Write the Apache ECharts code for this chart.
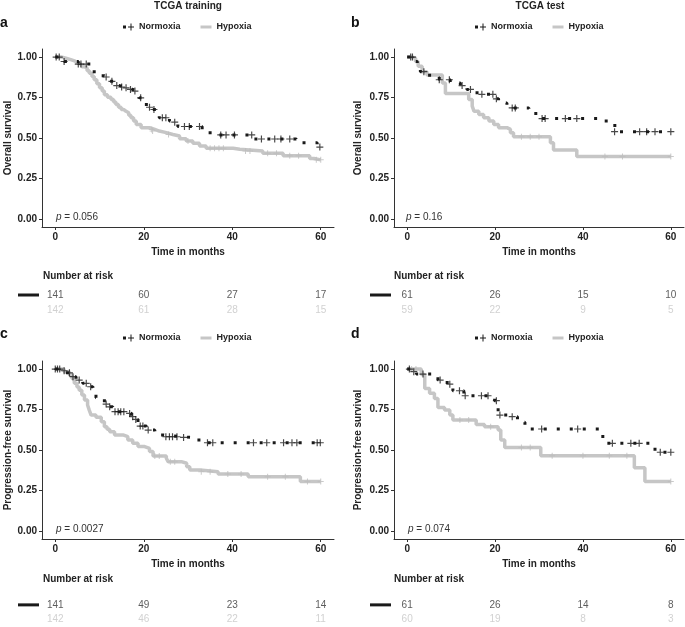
<!DOCTYPE html>
<html><head><meta charset="utf-8">
<script src="https://cdn.jsdelivr.net/npm/echarts@6/dist/echarts.min.js"></script>
<style>html,body{margin:0;padding:0;background:#fff}#c{width:685px;height:627px}</style>
</head><body><div id="c"></div>
<script>
// ---------- data ----------
const xTicks = [0, 20, 40, 60];
const yTicks = [0, 0.25, 0.5, 0.75, 1];
const riskTimes = [0, 20, 40, 60];
const groupNames = ['Normoxia', 'Hypoxia'];
const columnTitles = ['TCGA training', 'TCGA test'];
const panelLetters = ['a', 'b', 'c', 'd'];
const yNames = ['Overall survival', 'Overall survival', 'Progression-free survival', 'Progression-free survival'];
const pValues = ['0.056', '0.16', '0.0027', '0.074'];

// a: TCGA training, overall survival
const aNormoxia = [[0,1],[2.0,0.973],[5.2,0.957],[8.8,0.885],[11.1,0.877],[12.2,0.85],[13.4,0.824],[14.5,0.815],[15.6,0.81],[16.8,0.80],[17.5,0.79],[18.6,0.768],[19.0,0.748],[19.9,0.707],[21.0,0.69],[21.7,0.676],[22.8,0.656],[23.5,0.625],[25.8,0.605],[26.6,0.598],[27.7,0.571],[33.2,0.55],[35.0,0.519],[44.6,0.494],[54.5,0.47],[59.2,0.444],[60,0.444]];
const aNormoxiaCens = [[0.2,1],[0.9,1],[2.0,0.973],[5.2,0.957],[5.8,0.957],[7.0,0.957],[11.5,0.877],[12.8,0.85],[13.9,0.824],[15.0,0.815],[16.0,0.81],[17.0,0.80],[18.0,0.79],[19.3,0.748],[21.3,0.69],[22.3,0.676],[24.2,0.625],[25.0,0.625],[27.0,0.598],[29.2,0.571],[30.3,0.571],[32.6,0.571],[37.4,0.519],[38.6,0.519],[40.5,0.519],[44.4,0.519],[46.6,0.494],[49.6,0.494],[51.0,0.494],[53.0,0.494],[59.8,0.444]];
const aHypoxia = [[0,1],[1.5,0.993],[2.4,0.984],[3.5,0.975],[4.5,0.965],[5.1,0.953],[6.0,0.94],[6.6,0.932],[7.2,0.915],[7.7,0.90],[8.3,0.88],[8.8,0.86],[9.4,0.835],[10.0,0.81],[10.6,0.79],[11.1,0.768],[11.8,0.752],[12.6,0.738],[13.2,0.722],[13.7,0.707],[14.3,0.69],[14.9,0.676],[15.5,0.665],[16.0,0.656],[16.6,0.64],[17.1,0.625],[17.7,0.605],[18.3,0.584],[19.4,0.564],[21.3,0.553],[22.5,0.543],[23.5,0.533],[25.1,0.522],[26.6,0.512],[28.1,0.496],[29.6,0.482],[31.1,0.467],[32.6,0.451],[34.1,0.436],[40.2,0.43],[41.7,0.42],[46.9,0.406],[51.5,0.39],[57.5,0.373],[58.5,0.365],[60,0.365]];
const aHypoxiaCens = [[21.8,0.553],[22.0,0.543],[25.6,0.522],[30.0,0.482],[35.0,0.436],[36.0,0.436],[37.0,0.436],[38.0,0.436],[43.0,0.42],[44.0,0.42],[48.0,0.406],[50.0,0.406],[53.0,0.39],[55.0,0.39],[59.0,0.365],[60,0.365]];

// b: TCGA test, overall survival
const bNormoxia = [[0,1],[1.5,0.973],[2.3,0.953],[3.0,0.91],[5.1,0.877],[7.3,0.86],[9.8,0.84],[12.1,0.824],[13.6,0.80],[15.9,0.77],[19.7,0.758],[20.1,0.742],[20.8,0.717],[22.7,0.686],[27.7,0.652],[29.9,0.62],[44.3,0.605],[46.6,0.578],[47.8,0.539],[60,0.539]];
const bNormoxiaCens = [[0.8,1],[1.2,1],[3.8,0.91],[7.3,0.86],[9.6,0.86],[12.5,0.824],[14.4,0.80],[17.0,0.77],[19.5,0.77],[20.3,0.742],[23.9,0.686],[24.6,0.686],[30.7,0.62],[31.4,0.62],[36.0,0.62],[38.6,0.62],[47.2,0.539],[52.9,0.539],[54.5,0.539],[56.4,0.539],[60,0.539]];
const bHypoxia = [[0,1],[1.1,0.994],[1.9,0.973],[2.5,0.943],[3.4,0.91],[4.5,0.889],[8.0,0.84],[8.7,0.775],[14.0,0.738],[14.8,0.697],[15.2,0.666],[16.3,0.645],[17.4,0.625],[18.6,0.605],[19.7,0.584],[20.8,0.564],[22.7,0.553],[23.5,0.533],[24.2,0.508],[32.6,0.471],[33.3,0.426],[38.6,0.385],[60,0.385]];
const bHypoxiaCens = [[26,0.508],[28,0.508],[30,0.508],[45,0.385],[49,0.385],[60,0.385]];

// c: TCGA training, progression-free survival
const cNormoxia = [[0,1],[1.3,0.99],[2.4,0.977],[3.6,0.953],[4.7,0.932],[6.2,0.912],[7.3,0.891],[8.5,0.87],[9.2,0.823],[11.1,0.784],[11.9,0.767],[13.0,0.737],[16.4,0.726],[17.2,0.706],[17.9,0.689],[18.7,0.648],[20.6,0.623],[22.5,0.593],[24.4,0.582],[28.5,0.578],[30.6,0.562],[34.0,0.545],[60,0.545]];
const cNormoxiaCens = [[0,1],[0.5,1],[1.0,1],[2.0,0.99],[3.2,0.977],[4.0,0.953],[5.4,0.932],[7.0,0.912],[8.0,0.891],[11.5,0.784],[12.3,0.767],[13.5,0.737],[14.2,0.737],[14.8,0.737],[15.5,0.737],[16.8,0.726],[17.5,0.706],[18.2,0.689],[19.2,0.648],[19.8,0.648],[21.0,0.623],[25.0,0.582],[25.8,0.582],[26.5,0.582],[27.5,0.582],[29.0,0.578],[34.4,0.545],[35.6,0.545],[44.8,0.545],[47.8,0.545],[51.6,0.545],[53.5,0.545],[54.6,0.545],[59.2,0.545],[59.9,0.545]];
const cHypoxia = [[0,1],[2.0,0.984],[3.2,0.963],[3.8,0.94],[4.3,0.912],[4.9,0.89],[5.4,0.87],[6.0,0.84],[6.6,0.809],[7.3,0.778],[7.7,0.745],[8.1,0.716],[9.2,0.702],[10.4,0.675],[11.1,0.644],[11.7,0.628],[12.3,0.613],[13.4,0.593],[15.3,0.582],[16.4,0.562],[17.5,0.541],[18.7,0.521],[20.2,0.51],[21.3,0.49],[22.1,0.463],[25.1,0.449],[25.5,0.428],[28.5,0.418],[29.7,0.397],[30.4,0.377],[32.7,0.366],[36.8,0.352],[43.6,0.335],[55.4,0.305],[60,0.305]];
const cHypoxiaCens = [[22.5,0.463],[23.5,0.463],[26,0.428],[27,0.428],[33,0.366],[35,0.366],[39,0.352],[42,0.352],[48,0.335],[52,0.335],[57,0.305],[60,0.305]];

// d: TCGA test, progression-free survival
const dNormoxia = [[0,1],[0.9,0.984],[2.1,0.969],[7.0,0.932],[9.1,0.907],[10.4,0.866],[12.9,0.835],[19.9,0.805],[20.7,0.716],[23.3,0.706],[25.1,0.672],[26.8,0.63],[43.9,0.584],[45.2,0.541],[56.4,0.486],[60,0.486]];
const dNormoxiaCens = [[0.5,1],[1.5,0.984],[3.6,0.969],[7.5,0.932],[9.7,0.907],[11.9,0.866],[13.2,0.835],[16.9,0.835],[18.4,0.835],[20.3,0.805],[21.1,0.716],[23.9,0.706],[30.6,0.63],[38.8,0.63],[46.7,0.541],[50.9,0.541],[52.8,0.541],[57.6,0.486],[60,0.486]];
const dHypoxia = [[0,1],[3.2,0.967],[4.0,0.88],[5.1,0.85],[6.2,0.819],[7.0,0.763],[8.5,0.747],[9.7,0.716],[10.4,0.685],[15.7,0.658],[17.6,0.644],[20.7,0.623],[21.3,0.562],[22.2,0.516],[30.4,0.465],[51.7,0.39],[54.1,0.305],[60,0.305]];
const dHypoxiaCens = [[1,1],[2,1],[12,0.685],[14,0.685],[19,0.644],[26,0.516],[28,0.516],[33,0.465],[40,0.465],[46,0.465],[50,0.465],[60,0.305]];

// numbers at risk (at riskTimes)
const aRiskNormoxia = [141, 60, 27, 17];
const aRiskHypoxia  = [142, 61, 28, 15];
const bRiskNormoxia = [61, 26, 15, 10];
const bRiskHypoxia  = [59, 22, 9, 5];
const cRiskNormoxia = [141, 49, 23, 14];
const cRiskHypoxia  = [142, 46, 22, 11];
const dRiskNormoxia = [61, 26, 14, 8];
const dRiskHypoxia  = [60, 19, 8, 3];

// ---------- layout / style ----------
const BLACK = '#1a1a1a', GREY = '#c6c6c6';
const plotBoxes = [
  {left: 42, top: 49, width: 292, height: 178},
  {left: 394, top: 49, width: 290, height: 178},
  {left: 42, top: 361, width: 292, height: 178},
  {left: 394, top: 361, width: 290, height: 178}
];
const riskBoxes = [
  {top: 287.5, height: 30}, {top: 287.5, height: 30},
  {top: 597.5, height: 34}, {top: 597.5, height: 34}
];
const nameGaps = [29, 31, 29, 31];
const plusPath = 'path://M-0.5,-3H0.5V-0.5H3V0.5H0.5V3H-0.5V0.5H-3V-0.5H-0.5Z';

const panels = [
  {norm: aNormoxia, normC: aNormoxiaCens, hyp: aHypoxia, hypC: aHypoxiaCens, rN: aRiskNormoxia, rH: aRiskHypoxia},
  {norm: bNormoxia, normC: bNormoxiaCens, hyp: bHypoxia, hypC: bHypoxiaCens, rN: bRiskNormoxia, rH: bRiskHypoxia},
  {norm: cNormoxia, normC: cNormoxiaCens, hyp: cHypoxia, hypC: cHypoxiaCens, rN: cRiskNormoxia, rH: cRiskHypoxia},
  {norm: dNormoxia, normC: dNormoxiaCens, hyp: dHypoxia, hypC: dHypoxiaCens, rN: dRiskNormoxia, rH: dRiskHypoxia}
];

const grid = [], xAxis = [], yAxis = [], series = [], legend = [], graphic = [];
const axisLineStyle = {show: true, onZero: false, lineStyle: {color: '#333', width: 1}};
const tickStyle = {show: true, length: 3, lineStyle: {color: '#333', width: 1}};
const boldLabel = {color: '#222', fontSize: 10, fontWeight: 'bold', fontFamily: 'Liberation Sans, Arial, sans-serif'};

panels.forEach((p, i) => {
  const b = plotBoxes[i];
  grid.push({left: b.left, top: b.top, width: b.width, height: b.height, containLabel: false});
  xAxis.push({
    gridIndex: i, type: 'value', min: -3, max: 63,
    axisLine: axisLineStyle, axisTick: Object.assign({customValues: xTicks}, tickStyle),
    axisLabel: Object.assign({customValues: xTicks, margin: 5}, boldLabel),
    splitLine: {show: false},
    name: 'Time in months', nameLocation: 'middle', nameGap: 20,
    nameTextStyle: boldLabel
  });
  yAxis.push({
    gridIndex: i, type: 'value', min: -0.05, max: 1.05,
    axisLine: axisLineStyle, axisTick: Object.assign({customValues: yTicks}, tickStyle),
    axisLabel: Object.assign({customValues: yTicks, margin: 5, formatter: v => v.toFixed(2)}, boldLabel),
    splitLine: {show: false},
    name: yNames[i], nameLocation: 'middle', nameGap: nameGaps[i],
    nameTextStyle: boldLabel
  });
  series.push({
    name: groupNames[1], type: 'line', xAxisIndex: i, yAxisIndex: i, step: 'end',
    data: p.hyp, showSymbol: false, symbol: 'none', silent: true,
    itemStyle: {color: GREY}, lineStyle: {color: GREY, width: 3.5}, z: 2
  });
  series.push({
    name: 'hypCens' + i, type: 'scatter', xAxisIndex: i, yAxisIndex: i,
    data: p.hypC, symbol: plusPath, symbolSize: 6, silent: true,
    itemStyle: {color: '#bdbdbd'}, z: 2
  });
  series.push({
    name: groupNames[0], type: 'line', xAxisIndex: i, yAxisIndex: i, step: 'end',
    data: p.norm, showSymbol: false, symbol: 'none', silent: true,
    itemStyle: {color: BLACK}, lineStyle: {color: BLACK, width: 3, type: [3, 10], cap: 'butt'}, z: 3
  });
  series.push({
    name: 'normCens' + i, type: 'scatter', xAxisIndex: i, yAxisIndex: i,
    data: p.normC, symbol: plusPath, symbolSize: 7, silent: true,
    itemStyle: {color: BLACK}, z: 4
  });
});

// risk tables
panels.forEach((p, i) => {
  const b = plotBoxes[i], r = riskBoxes[i];
  const gi = 4 + i;
  grid.push({left: b.left, top: r.top, width: b.width, height: r.height});
  xAxis.push({gridIndex: gi, type: 'value', min: -3, max: 63, show: false});
  yAxis.push({
    gridIndex: gi, type: 'category', data: groupNames, inverse: true,
    axisLine: {show: false}, axisTick: {show: false}, splitLine: {show: false},
    axisLabel: {
      margin: 3,
      formatter: v => v === groupNames[0] ? '{k|}' : '{h|}',
      rich: {
        k: {width: 21, height: 3, lineHeight: 3, backgroundColor: BLACK},
        h: {width: 21, height: 3, lineHeight: 3, backgroundColor: GREY}
      }
    }
  });
  [[p.rN, '#333'], [p.rH, GREY]].forEach((pair, k) => {
    series.push({
      name: 'risk' + i + '_' + k, type: 'scatter', xAxisIndex: gi, yAxisIndex: gi,
      data: riskTimes.map((t, j) => [t, k, pair[0][j]]),
      symbolSize: 1, silent: true, itemStyle: {color: 'rgba(0,0,0,0)'},
      label: {show: true, position: 'inside', formatter: q => q.value[2],
              color: pair[1], fontSize: 10, fontFamily: 'Liberation Sans, Arial, sans-serif'}
    });
  });
});

// legends
const legendPos = [[123, 22.5], [475, 22.5], [123, 333.5], [475, 333.5]];
legendPos.forEach(pos => {
  legend.push({
    left: pos[0], top: pos[1], orient: 'horizontal', itemGap: 20, padding: 0,
    itemWidth: 11, itemHeight: 7, selectedMode: false,
    textStyle: {color: '#222', fontSize: 9, fontWeight: 'bold', fontFamily: 'Liberation Sans, Arial, sans-serif'},
    data: [
      {name: groupNames[0], icon: 'path://M0,2H3V5H0Z M7.5,0H8.5V7H7.5Z M5,3H11V4H5Z', itemStyle: {color: BLACK}},
      {name: groupNames[1], icon: 'path://M0,0H11V3H0Z', itemStyle: {color: GREY}}
    ]
  });
});

// annotations
const FF = 'Liberation Sans, Arial, sans-serif';
graphic.push({type: 'text', x: 188, y: 6, style: {text: columnTitles[0], font: 'bold 10px ' + FF, fill: '#222', align: 'center', verticalAlign: 'middle'}});
graphic.push({type: 'text', x: 540, y: 6, style: {text: columnTitles[1], font: 'bold 10px ' + FF, fill: '#222', align: 'center', verticalAlign: 'middle'}});
const letterPos = [[0, 22.7], [351, 22.7], [0, 334.5], [351, 334.5]];
const pPos = [[56, 217.5], [406, 217.5], [56, 529.5], [408, 529.5]];
const nrPos = [[43, 276], [394, 276], [43, 579], [394, 579]];
panels.forEach((p, i) => {
  graphic.push({type: 'text', x: letterPos[i][0], y: letterPos[i][1],
    style: {text: panelLetters[i], font: 'bold 14px ' + FF, fill: '#111', align: 'left', verticalAlign: 'middle'}});
  graphic.push({type: 'text', x: pPos[i][0], y: pPos[i][1],
    style: {text: '{i|p} = ' + pValues[i], font: '10px ' + FF, fill: '#333', align: 'left', verticalAlign: 'middle',
      rich: {i: {fontStyle: 'italic', fontSize: 10, fontFamily: FF, fill: '#333'}}}});
  graphic.push({type: 'text', x: nrPos[i][0], y: nrPos[i][1],
    style: {text: 'Number at risk', font: 'bold 10px ' + FF, fill: '#222', align: 'left', verticalAlign: 'middle'}});
});

const chart = echarts.init(document.getElementById('c'), null, {renderer: 'canvas'});
chart.setOption({animation: false, backgroundColor: '#fff', grid, xAxis, yAxis, series, legend, graphic});
</script>
</body></html>
